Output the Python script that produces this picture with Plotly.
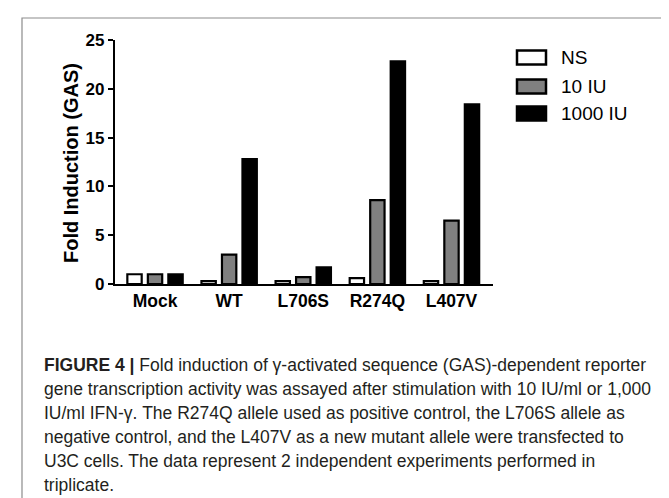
import plotly.graph_objects as go

W, H = 669, 498

categories = ["Mock", "WT", "L706S", "R274Q", "L407V"]
series_names = ["NS", "10 IU", "1000 IU"]
ns_values = [1.0, 0.3, 0.3, 0.6, 0.3]
iu10_values = [1.0, 3.0, 0.7, 8.6, 6.5]
iu1000_values = [1.0, 12.8, 1.7, 22.8, 18.4]
y_ticks = [0, 5, 10, 15, 20, 25]
y_title = "Fold Induction (GAS)"
caption_lines = [
    "<b>FIGURE 4 |</b> Fold induction of γ-activated sequence (GAS)-dependent reporter",
    "gene transcription activity was assayed after stimulation with 10 IU/ml or 1,000",
    "IU/ml IFN-γ. The R274Q allele used as positive control, the L706S allele as",
    "negative control, and the L407V as a new mutant allele were transfected to",
    "U3C cells. The data represent 2 independent experiments performed in",
    "triplicate.",
]

fills = ["#ffffff", "#808080", "#000000"]
values = [ns_values, iu10_values, iu1000_values]

def px_x(p):
    return p / W

def px_y(p):
    return (H - p) / H

fig = go.Figure()
for name, vals, col in zip(series_names, values, fills):
    fig.add_trace(go.Bar(
        x=categories, y=vals, name=name,
        marker=dict(color=col, line=dict(color="#000000", width=2.2)),
        showlegend=False,
    ))

CHART_FONT = "Liberation Sans, Arial, sans-serif"

fig.update_layout(
    width=W, height=H,
    margin=dict(l=0, r=0, t=0, b=0),
    paper_bgcolor="white", plot_bgcolor="white",
    barmode="group", bargap=0.17, bargroupgap=0.3,
    xaxis=dict(
        domain=[px_x(107), px_x(485)], range=[-0.54, 4.56],
        showline=True, linecolor="black", linewidth=2.2,
        ticks="", showgrid=False, zeroline=False,
        tickfont=dict(family=CHART_FONT, size=17.5, color="black", weight="bold"),
        ticklabelstandoff=0, automargin=False, fixedrange=True,
    ),
    yaxis=dict(
        domain=[px_y(276), px_y(32)], range=[0, 25],
        tickvals=y_ticks,
        showline=True, linecolor="black", linewidth=2.2,
        ticks="outside", ticklen=5, tickwidth=2, tickcolor="black",
        showgrid=False, zeroline=False,
        tickfont=dict(family=CHART_FONT, size=17, color="black", weight="bold"),
        automargin=False, fixedrange=True,
    ),
)

shapes = []
annotations = []

# outer frame
shapes.append(dict(type="rect", xref="paper", yref="paper",
                   x0=px_x(14), x1=px_x(667), y0=px_y(520), y1=px_y(10),
                   line=dict(color="#8c8c8c", width=1.2), fillcolor="rgba(0,0,0,0)",
                   layer="below"))

# y-axis title
annotations.append(dict(text=f"<b>{y_title}</b>", xref="paper", yref="paper",
                        x=px_x(63), y=px_y(155), textangle=-90, showarrow=False,
                        xanchor="center", yanchor="middle",
                        font=dict(family=CHART_FONT, size=20, color="black")))

# legend (drawn manually for larger swatches)
leg_centers = [49.5, 78.5, 105.5]
for name, col, cy in zip(series_names, fills, leg_centers):
    shapes.append(dict(type="rect", xref="paper", yref="paper",
                       x0=px_x(509), x1=px_x(538), y0=px_y(cy + 7), y1=px_y(cy - 7),
                       line=dict(color="black", width=2.5), fillcolor=col))
    annotations.append(dict(text=name, xref="paper", yref="paper",
                            x=px_x(551), y=px_y(cy), showarrow=False,
                            xanchor="left", yanchor="middle",
                            font=dict(family=CHART_FONT, size=19, color="black")))

# caption
for i, line in enumerate(caption_lines):
    annotations.append(dict(text=line, xref="paper", yref="paper",
                            x=px_x(34), y=px_y(357 + 24 * i), showarrow=False,
                            xanchor="left", yanchor="middle", align="left",
                            font=dict(family=CHART_FONT, size=17.5, color="#231f20")))

fig.update_layout(shapes=shapes, annotations=annotations)
fig.write_html("out.html")
